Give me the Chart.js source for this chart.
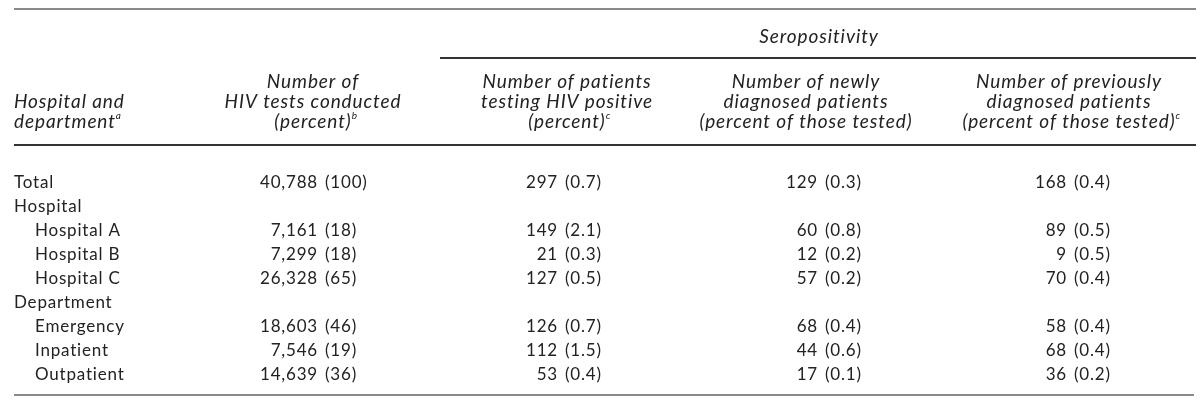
<!DOCTYPE html>
<html>
<head>
<meta charset="utf-8">
<script src="https://cdn.jsdelivr.net/npm/chart.js"></script>
<style>
  body { margin: 0; background: #fff; }
  #table-chart { display: block; }
</style>
</head>
<body>
<canvas id="table-chart" width="1200" height="405"></canvas>
<script>
// rows of the table
const rowLabels = ["Total", "Hospital", "Hospital A", "Hospital B", "Hospital C", "Department", "Emergency", "Inpatient", "Outpatient"];
const rowIndent = [0, 0, 1, 1, 1, 0, 1, 1, 1];

// HIV tests conducted (percent)
const testsCount = [40788, null, 7161, 7299, 26328, null, 18603, 7546, 14639];
const testsPct = [100, null, 18, 18, 65, null, 46, 19, 36];
// patients testing HIV positive (percent)
const positiveCount = [297, null, 149, 21, 127, null, 126, 112, 53];
const positivePct = [0.7, null, 2.1, 0.3, 0.5, null, 0.7, 1.5, 0.4];
// newly diagnosed (percent of those tested)
const newCount = [129, null, 60, 12, 57, null, 68, 44, 17];
const newPct = [0.3, null, 0.8, 0.2, 0.2, null, 0.4, 0.6, 0.1];
// previously diagnosed (percent of those tested)
const prevCount = [168, null, 89, 9, 70, null, 58, 68, 36];
const prevPct = [0.4, null, 0.5, 0.5, 0.4, null, 0.4, 0.4, 0.2];

const spannerLabel = "Seropositivity";
const headers = [
  { lines: ["Hospital and", "department"], sup: "a" },
  { lines: ["Number of", "HIV tests conducted", "(percent)"], sup: "b" },
  { lines: ["Number of patients", "testing HIV positive", "(percent)"], sup: "c" },
  { lines: ["Number of newly", "diagnosed patients", "(percent of those tested)"], sup: "" },
  { lines: ["Number of previously", "diagnosed patients", "(percent of those tested)"], sup: "c" },
];

const columns = [
  { count: testsCount, pct: testsPct, digits: 0 },
  { count: positiveCount, pct: positivePct, digits: 1 },
  { count: newCount, pct: newPct, digits: 1 },
  { count: prevCount, pct: prevPct, digits: 1 },
];

// layout (x in the 0..1200 units of the hidden x scale)
const labelX = 14;
const indentX = 35;
const numberRightX = [318, 558, 818, 1067];
const headerCenterX = [null, 313, 567, 806, 1069];
const ruleLeft = 14;
const ruleRight = 1196;

const textColor = "#222";
const fontFamily = "Lato, 'Open Sans', sans-serif";
const headFont = "italic 19px " + fontFamily;
const supFont = "italic 10px " + fontFamily;
const bodyFont = "17px " + fontFamily;

function formatCount(value) {
  return value.toLocaleString("en-US");
}

function formatPct(value, digits) {
  return "(" + value.toFixed(digits) + ")";
}

function drawRule(ctx, x1, x2, y, color) {
  ctx.save();
  ctx.strokeStyle = color;
  ctx.lineWidth = 2;
  ctx.beginPath();
  ctx.moveTo(x1, y);
  ctx.lineTo(x2, y);
  ctx.stroke();
  ctx.restore();
}

function drawHeaderLine(ctx, text, sup, x, y, align) {
  ctx.letterSpacing = "0.9px";
  ctx.font = headFont;
  const w = ctx.measureText(text).width;
  const left = align === "left" ? x : x - w / 2;
  ctx.textAlign = "left";
  ctx.fillText(text, left, y);
  if (sup) {
    ctx.letterSpacing = "0px";
    ctx.font = supFont;
    ctx.fillText(sup, left + w, y - 6);
  }
}

const tablePlugin = {
  id: "tableCells",
  afterDraw(chart) {
    const ctx = chart.ctx;
    const xScale = chart.scales.x;
    const yScale = chart.scales.y;
    const px = (v) => xScale.getPixelForValue(v);

    ctx.save();
    ctx.fillStyle = textColor;
    ctx.textBaseline = "middle";

    // rules
    drawRule(ctx, px(ruleLeft), px(ruleRight), 9, "#8a8a8a");
    drawRule(ctx, px(440), px(ruleRight), 58, "#333");
    drawRule(ctx, px(ruleLeft), px(ruleRight), 145, "#333");
    drawRule(ctx, px(ruleLeft), px(ruleRight - 2), 395, "#8a8a8a");

    // spanner header
    ctx.letterSpacing = "0.9px";
    ctx.font = headFont;
    ctx.textAlign = "center";
    ctx.fillText(spannerLabel, px(819), 37);

    // column headers, bottom aligned
    const lineGap = 20;
    const lastLineY = 122;
    headers.forEach((h, i) => {
      h.lines.forEach((line, k) => {
        const y = lastLineY - (h.lines.length - 1 - k) * lineGap;
        const sup = k === h.lines.length - 1 ? h.sup : "";
        if (i === 0) {
          drawHeaderLine(ctx, line, sup, px(labelX), y, "left");
        } else {
          drawHeaderLine(ctx, line, sup, px(headerCenterX[i]), y, "center");
        }
      });
    });

    // body cells
    ctx.font = bodyFont;
    ctx.letterSpacing = "0.8px";
    rowLabels.forEach((label, r) => {
      const y = yScale.getPixelForValue(r);
      ctx.textAlign = "left";
      ctx.fillText(label, px(rowIndent[r] ? indentX : labelX), y);
      columns.forEach((col, c) => {
        if (col.count[r] === null) return;
        const xr = px(numberRightX[c]);
        ctx.textAlign = "right";
        ctx.fillText(formatCount(col.count[r]), xr, y);
        ctx.textAlign = "left";
        ctx.fillText(formatPct(col.pct[r], col.digits), xr + 7, y);
      });
    });
    ctx.restore();
  },
};

new Chart(document.getElementById("table-chart"), {
  type: "scatter",
  data: { datasets: [] },
  options: {
    responsive: false,
    animation: false,
    devicePixelRatio: 1,
    layout: { padding: { top: 170, bottom: 18, left: 0, right: 0 } },
    plugins: { legend: { display: false }, tooltip: { enabled: false } },
    scales: {
      x: { type: "linear", min: 0, max: 1200, display: false },
      y: { type: "category", labels: rowLabels, offset: true, display: false },
    },
  },
  plugins: [tablePlugin],
});
</script>
</body>
</html>
